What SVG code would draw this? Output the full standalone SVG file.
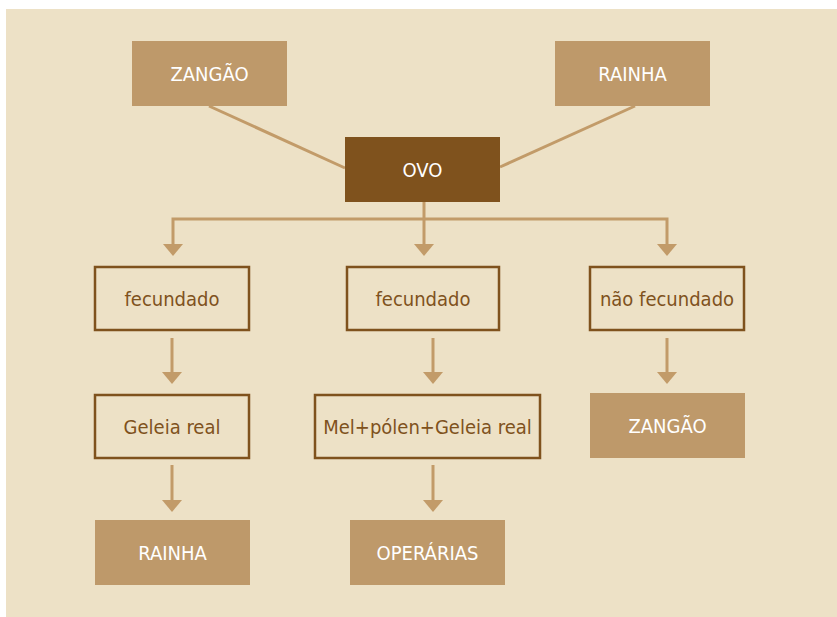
<svg xmlns="http://www.w3.org/2000/svg" width="837" height="617" viewBox="0 0 837 617">
<style>
.fill{fill:#be996a}
.dark{fill:#7f521d}
.out{fill:none;stroke:#7f521d;stroke-width:2.5}
.lt{font-family:"DejaVu Sans Condensed","Liberation Sans",sans-serif;font-stretch:condensed;font-size:20px;fill:#ffffff;text-anchor:middle;dominant-baseline:central}
.dt{font-family:"DejaVu Sans Condensed","Liberation Sans",sans-serif;font-stretch:condensed;font-size:20px;fill:#7f521d;text-anchor:middle;dominant-baseline:central}
.ln{fill:none;stroke:#c29b69;stroke-width:3}
.ah{fill:#c29b69}
</style>
<rect width="837" height="617" fill="#ffffff"/>
<rect x="6" y="9" width="831" height="608" fill="#ede1c6"/>
<g id="connectors">
<line class="ln" x1="209" y1="106" x2="345" y2="168"/>
<line class="ln" x1="635" y1="106" x2="500" y2="167"/>
<polyline class="ln" points="173,245 173,219 667,219 667,245"/>
<line class="ln" x1="424" y1="202" x2="424" y2="245"/>
<path class="ah" d="M163,244 L183,244 L173,256 Z"/>
<path class="ah" d="M414,244 L434,244 L424,256 Z"/>
<path class="ah" d="M657,244 L677,244 L667,256 Z"/>
<line class="ln" x1="172" y1="338" x2="172" y2="373"/>
<path class="ah" d="M162,372 L182,372 L172,384 Z"/>
<line class="ln" x1="433" y1="338" x2="433" y2="373"/>
<path class="ah" d="M423,372 L443,372 L433,384 Z"/>
<line class="ln" x1="667" y1="338" x2="667" y2="373"/>
<path class="ah" d="M657,372 L677,372 L667,384 Z"/>
<line class="ln" x1="172" y1="465" x2="172" y2="501"/>
<path class="ah" d="M162,500 L182,500 L172,512 Z"/>
<line class="ln" x1="433" y1="465" x2="433" y2="501"/>
<path class="ah" d="M423,500 L443,500 L433,512 Z"/>
</g>
<g id="zangao-top"><rect class="fill" x="132" y="41" width="155" height="65"/><text class="lt" x="209.5" y="73.5">ZANGÃO</text></g>
<g id="rainha-top"><rect class="fill" x="555" y="41" width="155" height="65"/><text class="lt" x="632.5" y="73.5">RAINHA</text></g>
<g id="ovo"><rect class="dark" x="345" y="137" width="155" height="65"/><text class="lt" x="422.5" y="169.5">OVO</text></g>
<g id="fecundado-1"><rect class="out" x="95" y="267" width="154" height="63"/><text class="dt" x="172" y="298.5">fecundado</text></g>
<g id="fecundado-2"><rect class="out" x="347" y="267" width="152" height="63"/><text class="dt" x="423" y="298.5">fecundado</text></g>
<g id="nao-fecundado"><rect class="out" x="590" y="267" width="154" height="63"/><text class="dt" x="667" y="298.5">não fecundado</text></g>
<g id="geleia-real"><rect class="out" x="95" y="395" width="154" height="63"/><text class="dt" x="172" y="426.5">Geleia real</text></g>
<g id="mel-polen"><rect class="out" x="315" y="395" width="225" height="63"/><text class="dt" x="427.5" y="426.5">Mel+pólen+Geleia real</text></g>
<g id="zangao-bottom"><rect class="fill" x="590" y="393" width="155" height="65"/><text class="lt" x="667.5" y="425.5">ZANGÃO</text></g>
<g id="rainha-bottom"><rect class="fill" x="95" y="520" width="155" height="65"/><text class="lt" x="172.5" y="552.5">RAINHA</text></g>
<g id="operarias"><rect class="fill" x="350" y="520" width="155" height="65"/><text class="lt" x="427.5" y="552.5">OPERÁRIAS</text></g>
</svg>
